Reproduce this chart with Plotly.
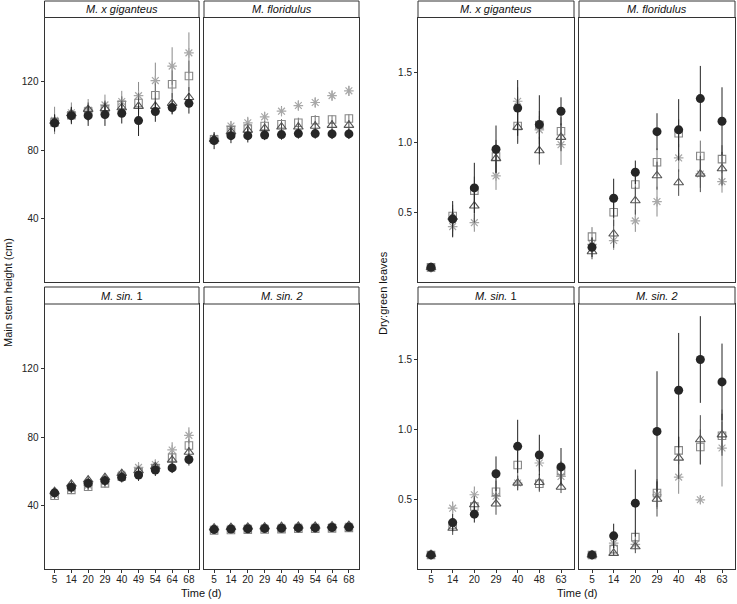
import plotly.graph_objects as go

# ---------------- data ----------------
days_h = ["5", "14", "20", "29", "40", "49", "54", "64", "68"]
days_d = ["5", "14", "20", "29", "40", "48", "63"]

# Main stem height (cm)
gig_h_circ = [96, 100.3, 100.3, 100.9, 101.7, 97.4, 102.7, 105, 107.5]
gig_h_tri = [97, 101.5, 104, 104.5, 105, 105.8, 105.8, 107.5, 111]
gig_h_sq = [96.5, 100.5, 102.7, 104, 106.6, 107.7, 112.2, 118.7, 123.5]
gig_h_ast = [97.5, 102, 103.5, 106.6, 108.6, 112, 120.8, 129.3, 137]
gig_h_circ_e = [5, 5, 6, 6.6, 6, 9, 6, 4, 6]
gig_h_tri_e = [4, 4, 4, 4, 4, 5, 5, 6, 6]
gig_h_sq_e = [4, 4, 4, 5, 5, 6, 7, 8, 9]
gig_h_ast_e = [8, 6, 6.5, 6, 6.2, 8, 10.5, 11, 12]

flo_h_circ = [85.7, 88.6, 88.6, 89, 89.2, 89.8, 89.8, 89.6, 89.6]
flo_h_tri = [86.5, 90.9, 91.8, 92.8, 93.7, 93.7, 94.2, 94.7, 94.7]
flo_h_sq = [86.5, 91.8, 92.8, 94.2, 95.3, 96.1, 97.6, 98, 98.6]
flo_h_ast = [87, 94.2, 96.1, 99.6, 102.9, 106.2, 108, 112, 114.8]
flo_h_circ_e = [5, 4.4, 4, 3, 3, 3, 3, 3, 3]
flo_h_tri_e = [3, 3, 3, 3, 3, 3, 3, 3, 3]
flo_h_sq_e = [3, 3, 3, 3, 3, 3, 3, 2.5, 2.5]
flo_h_ast_e = [3, 3, 3.5, 3, 3, 3, 3, 3, 3]

sin1_h_circ = [47.4, 50.7, 53, 54.6, 56.5, 57.9, 60.8, 62, 66.9]
sin1_h_tri = [48.3, 52.6, 55, 56.5, 58.8, 60.4, 62.8, 66.6, 71.2]
sin1_h_sq = [45.8, 49.2, 51, 53, 57, 59.5, 62, 68, 75.1]
sin1_h_ast = [46.5, 50, 52, 54, 58.3, 62.3, 64, 72.5, 81]
sin1_h_circ_e = [2.5, 3, 3, 3, 3, 3.5, 3.5, 3, 3.5]
sin1_h_tri_e = [2, 2.5, 2.5, 2.5, 2.5, 2.5, 2.5, 3, 3]
sin1_h_sq_e = [2, 2.5, 2.5, 2.5, 2.5, 2.5, 2.5, 3, 3.5]
sin1_h_ast_e = [2, 2.5, 2.5, 2.5, 2.5, 3, 3, 4.5, 4.7]

sin2_h_circ = [26, 26.3, 26.5, 26.6, 26.8, 27, 27, 27.2, 27.5]
sin2_h_tri = [27, 27.3, 27.5, 27.6, 27.8, 28, 28, 28.2, 28.5]
sin2_h_sq = [25.5, 25.8, 26, 26.1, 26.3, 26.5, 26.5, 26.7, 27]
sin2_h_ast = [26.5, 26.8, 27, 27.1, 27.3, 27.5, 27.5, 27.7, 28]
sin2_h_circ_e = [1.5, 1.5, 1.5, 1.5, 1.5, 1.5, 1.5, 1.5, 1.5]
sin2_h_tri_e = [1.5, 1.5, 1.5, 1.5, 1.5, 1.5, 1.5, 1.5, 1.5]
sin2_h_sq_e = [1.5, 1.5, 1.5, 1.5, 1.5, 1.5, 1.5, 1.5, 1.5]
sin2_h_ast_e = [1.8, 1.8, 1.8, 1.8, 1.8, 1.8, 1.8, 1.8, 1.8]

# Dry:green leaves
gig_d_circ = [0.105, 0.45, 0.674, 0.951, 1.247, 1.128, 1.223]
gig_d_sq = [0.105, 0.473, 0.655, 0.898, 1.118, 1.125, 1.08]
gig_d_tri = [0.105, 0.465, 0.545, 0.885, 1.109, 0.941, 1.037]
gig_d_ast = [0.1, 0.397, 0.425, 0.76, 1.295, 1.09, 0.984]
gig_d_circ_e = [0.02, 0.13, 0.18, 0.17, 0.2, 0.21, 0.1]
gig_d_sq_e = [0.02, 0.08, 0.1, 0.12, 0.12, 0.1, 0.1]
gig_d_tri_e = [0.02, 0.06, 0.12, 0.1, 0.12, 0.1, 0.1]
gig_d_ast_e = [0.02, 0.07, 0.065, 0.1, 0.1, 0.1, 0.145]

flo_d_circ = [0.249, 0.6, 0.786, 1.077, 1.09, 1.314, 1.152]
flo_d_sq = [0.325, 0.5, 0.698, 0.858, 1.066, 0.903, 0.88]
flo_d_tri = [0.218, 0.345, 0.583, 0.762, 0.712, 0.774, 0.812]
flo_d_ast = [0.27, 0.297, 0.438, 0.576, 0.889, 0.774, 0.719]
flo_d_circ_e = [0.07, 0.14, 0.084, 0.132, 0.22, 0.234, 0.243]
flo_d_sq_e = [0.068, 0.1, 0.1, 0.1, 0.1, 0.11, 0.1]
flo_d_tri_e = [0.055, 0.1, 0.1, 0.1, 0.095, 0.13, 0.12]
flo_d_ast_e = [0.05, 0.067, 0.079, 0.107, 0.1, 0.1, 0.079]

sin1_d_circ = [0.101, 0.332, 0.392, 0.681, 0.877, 0.815, 0.73]
sin1_d_sq = [0.1, 0.315, 0.447, 0.552, 0.744, 0.61, 0.7]
sin1_d_tri = [0.105, 0.292, 0.46, 0.466, 0.615, 0.62, 0.586]
sin1_d_ast = [0.1, 0.435, 0.531, 0.52, 0.615, 0.758, 0.662]
sin1_d_circ_e = [0.02, 0.06, 0.06, 0.124, 0.19, 0.145, 0.135]
sin1_d_sq_e = [0.02, 0.05, 0.06, 0.08, 0.1, 0.06, 0.07]
sin1_d_tri_e = [0.02, 0.048, 0.06, 0.078, 0.053, 0.06, 0.043]
sin1_d_ast_e = [0.02, 0.048, 0.059, 0.06, 0.05, 0.06, 0.05]

sin2_d_circ = [0.101, 0.237, 0.471, 0.984, 1.278, 1.498, 1.338]
sin2_d_sq = [0.1, 0.142, 0.228, 0.543, 0.848, 0.872, 0.953]
sin2_d_tri = [0.1, 0.113, 0.16, 0.5, 0.794, 0.925, 0.96]
sin2_d_ast = [0.1, 0.185, 0.176, 0.53, 0.657, 0.495, 0.865]
sin2_d_circ_e = [0.02, 0.087, 0.24, 0.43, 0.41, 0.31, 0.274]
sin2_d_sq_e = [0.02, 0.04, 0.05, 0.1, 0.1, 0.126, 0.1]
sin2_d_tri_e = [0.02, 0.013, 0.047, 0.125, 0.15, 0.175, 0.15]
sin2_d_ast_e = [0.02, 0.04, 0.04, 0.1, 0.119, 0.03, 0.275]

strip_labels = ["<i>M. x giganteus</i>", "<i>M. floridulus</i>",
                "<i>M. sin.</i> 1", "<i>M. sin. 2</i>"]

# ---------------- layout geometry ----------------
W, H = 737, 604
def fx(p): return p / W
def fy(p): return 1 - p / H

cols_left = [(44.5, 199), (204, 359)]
cols_right = [(418, 574), (579, 735)]
rows = [(17.5, 282), (304, 569)]
strip_rows = [(1, 17.5), (287, 304)]

C_CIRC = "#262626"
C_TRI = "#555555"
C_SQ = "#878787"
C_AST = "#a8a8a8"

panels = [
    (days_h, [(gig_h_ast, gig_h_ast_e), (gig_h_sq, gig_h_sq_e), (gig_h_tri, gig_h_tri_e), (gig_h_circ, gig_h_circ_e)], cols_left[0], 0, "h", 0),
    (days_h, [(flo_h_ast, flo_h_ast_e), (flo_h_sq, flo_h_sq_e), (flo_h_tri, flo_h_tri_e), (flo_h_circ, flo_h_circ_e)], cols_left[1], 0, "h", 1),
    (days_h, [(sin1_h_ast, sin1_h_ast_e), (sin1_h_sq, sin1_h_sq_e), (sin1_h_tri, sin1_h_tri_e), (sin1_h_circ, sin1_h_circ_e)], cols_left[0], 1, "h", 2),
    (days_h, [(sin2_h_ast, sin2_h_ast_e), (sin2_h_sq, sin2_h_sq_e), (sin2_h_tri, sin2_h_tri_e), (sin2_h_circ, sin2_h_circ_e)], cols_left[1], 1, "h", 3),
    (days_d, [(gig_d_ast, gig_d_ast_e), (gig_d_sq, gig_d_sq_e), (gig_d_tri, gig_d_tri_e), (gig_d_circ, gig_d_circ_e)], cols_right[0], 0, "d", 0),
    (days_d, [(flo_d_ast, flo_d_ast_e), (flo_d_sq, flo_d_sq_e), (flo_d_tri, flo_d_tri_e), (flo_d_circ, flo_d_circ_e)], cols_right[1], 0, "d", 1),
    (days_d, [(sin1_d_ast, sin1_d_ast_e), (sin1_d_sq, sin1_d_sq_e), (sin1_d_tri, sin1_d_tri_e), (sin1_d_circ, sin1_d_circ_e)], cols_right[0], 1, "d", 2),
    (days_d, [(sin2_d_ast, sin2_d_ast_e), (sin2_d_sq, sin2_d_sq_e), (sin2_d_tri, sin2_d_tri_e), (sin2_d_circ, sin2_d_circ_e)], cols_right[1], 1, "d", 3),
]

styles = [
    dict(symbol="asterisk-open", size=8, color=C_AST, line=dict(color=C_AST, width=1.2)),
    dict(symbol="square-open", size=7.5, color=C_SQ, line=dict(color=C_SQ, width=1.1)),
    dict(symbol="triangle-up-open", size=8.5, color=C_TRI, line=dict(color=C_TRI, width=1.1)),
    dict(symbol="circle", size=9, color=C_CIRC, line=dict(color=C_CIRC, width=0)),
]
err_colors = ["#8a8a8a", "#707070", "#4a4a4a", "#222222"]

fig = go.Figure()
layout = dict(
    width=W, height=H, margin=dict(l=0, r=0, t=0, b=0),
    paper_bgcolor="white", plot_bgcolor="white", showlegend=False,
    font=dict(family="Liberation Sans, Arial, sans-serif", size=10, color="#222"),
)
shapes = []
annotations = []

tick_font = dict(family="Liberation Sans, Arial, sans-serif", size=10, color="#222")

for i, (cats, series, (x0, x1), r, grp, pidx) in enumerate(panels):
    n = i + 1
    xa = "x" if n == 1 else f"x{n}"
    ya = "y" if n == 1 else f"y{n}"
    for (vals, errs), st, ec in zip(series, styles, err_colors):
        fig.add_trace(go.Scatter(
            x=cats, y=vals, mode="markers", xaxis=xa, yaxis=ya,
            marker=st,
            error_y=dict(type="data", array=errs, width=0, thickness=1, color=ec),
            hoverinfo="skip",
        ))
    y0, y1 = rows[r]
    show_x = r == 1
    show_y = (cols_left[0][0] == x0) or (cols_right[0][0] == x0)
    xkey = "xaxis" if n == 1 else f"xaxis{n}"
    ykey = "yaxis" if n == 1 else f"yaxis{n}"
    ncat = len(cats)
    layout[xkey] = dict(
        domain=[fx(x0), fx(x1)], anchor=ya, type="category",
        categoryorder="array", categoryarray=cats,
        range=[-0.6, ncat - 0.4], showgrid=False, zeroline=False,
        showline=True, mirror=True, linecolor="#333", linewidth=1,
        ticks="outside" if show_x else "", ticklen=3, tickcolor="#333",
        showticklabels=show_x, tickfont=tick_font, ticklabelstandoff=-2,
    )
    if grp == "h":
        yr = [3, 157.7]
        tv = [40, 80, 120]
        tt = ["40", "80", "120"]
    else:
        yr = [0.0, 1.895]
        tv = [0.5, 1.0, 1.5]
        tt = ["0.5", "1.0", "1.5"]
    layout[ykey] = dict(
        domain=[fy(y1), fy(y0)], anchor=xa, range=yr,
        tickvals=tv, ticktext=tt, showgrid=False, zeroline=False,
        showline=True, mirror=True, linecolor="#333", linewidth=1,
        ticks="outside" if show_y else "", ticklen=3, tickcolor="#333",
        showticklabels=show_y, tickfont=tick_font,
    )
    s0, s1 = strip_rows[r]
    shapes.append(dict(type="rect", xref="paper", yref="paper",
                       x0=fx(x0), x1=fx(x1), y0=fy(s1), y1=fy(s0),
                       fillcolor="white", line=dict(color="#333", width=1)))
    annotations.append(dict(text=strip_labels[pidx], xref="paper", yref="paper",
                            x=fx((x0 + x1) / 2), y=fy((s0 + s1) / 2),
                            showarrow=False, xanchor="center", yanchor="middle",
                            font=dict(family="Liberation Sans, Arial, sans-serif", size=11, color="#111")))

title_font = dict(family="Liberation Sans, Arial, sans-serif", size=11, color="#111")
annotations += [
    dict(text="Main stem height (cm)", xref="paper", yref="paper", x=fx(8), y=fy(293),
         textangle=-90, showarrow=False, xanchor="center", yanchor="middle", font=title_font),
    dict(text="Dry:green leaves", xref="paper", yref="paper", x=fx(383), y=fy(293),
         textangle=-90, showarrow=False, xanchor="center", yanchor="middle", font=title_font),
    dict(text="Time (d)", xref="paper", yref="paper", x=fx(202), y=fy(593),
         showarrow=False, xanchor="center", yanchor="middle", font=title_font),
    dict(text="Time (d)", xref="paper", yref="paper", x=fx(577), y=fy(593),
         showarrow=False, xanchor="center", yanchor="middle", font=title_font),
]
layout["shapes"] = shapes
layout["annotations"] = annotations
fig.update_layout(**layout)
fig.write_html(
    "out.html",
    config=dict(displayModeBar=False, staticPlot=True),
    post_script="document.body.style.margin='0';document.body.style.overflow='hidden';",
)
